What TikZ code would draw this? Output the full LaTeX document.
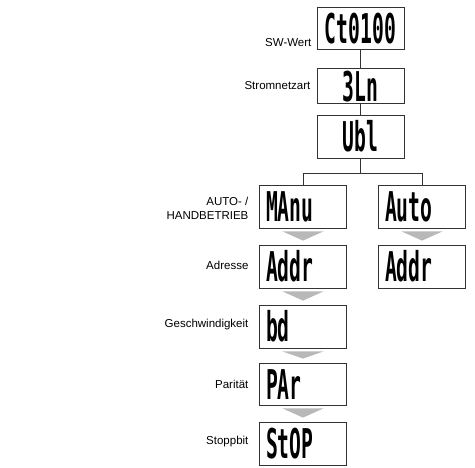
\documentclass[tikz,border=0pt]{standalone}
\usepackage{fontspec}
\usepackage{graphicx}
\setmainfont{Liberation Sans}
\newfontfamily\lcdfont{DejaVu Sans Mono}
\usepackage{tikz}
\usetikzlibrary{positioning, calc}

% display text, squeezed to look like the LCD
\newcommand{\lcd}[2][l]{\makebox[74pt][#1]{\scalebox{0.48}[1]{\lcdfont\bfseries\fontsize{41}{41}\selectfont #2}}}

\begin{document}
\begin{tikzpicture}[x=1pt, y=1pt,
    display/.style={draw=black!80, line width=0.8pt, minimum width=87pt, minimum height=43pt,
                    inner sep=0pt, text height=30pt, text depth=0pt},
    caption/.style={font=\fontsize{11.5}{13.5}\selectfont, align=right, inner sep=0pt},
    link/.style={draw=black!80, line width=0.8pt},
    pointer/.style={fill=black!28}]
        \useasboundingbox (0,0) rectangle (475,-467);

        % Top chain
        \node[display, minimum height=42pt] (ct) at (360.5,-28) {\lcd[c]{Ct0100}};
        \node[display, minimum height=35pt] (net) at (360.5,-86) {\lcd[c]{3Ln}};
        \node[display] (ubl) at (360.5,-136.5) {\lcd[c]{Ubl}};

        % Manual branch
        \node[display] (manu) at (303,-206.5) {\lcd{MAnu}};
        \node[display] (addr) at (303,-266.5) {\lcd{Addr}};
        \node[display] (bd) at (303,-326.5) {\lcd{bd}};
        \node[display, minimum height=42pt] (par) at (303,-384) {\lcd{PAr}};
        \node[display] (stop) at (303,-443.5) {\lcd{StOP}};

        % Auto branch
        \node[display] (auto) at (422,-206.5) {\lcd{Auto}};
        \node[display] (addrb) at (422,-266.5) {\lcd{Addr}};

        % Lines
        \coordinate[below=15pt of ubl.south] (split);
        \draw[link] (ct) -- (net);
        \draw[link] (net) -- (ubl);
        \draw[link] (ubl) -- (split) -| (manu);
        \draw[link] (split) -| (auto);

        % Grey pointers
        \foreach \a/\b in {manu/addr, addr/bd, bd/par, par/stop, auto/addrb} {
          \fill[pointer] ($(\a.south)+(-20.5,-3)$) -- ($(\a.south)+(20.5,-3)$) -- ($(\b.north)+(0,4)$) -- cycle;
        }

        % Labels
        \node[caption, left=5pt of ct.south west, yshift=7pt] (swwert) {SW-Wert};
        \node[caption, left=6pt of net.west] (netz) {Stromnetzart};
        \node[caption, left=10.5pt of manu.west, yshift=-2pt] (mode) {AUTO- /\\HANDBETRIEB};
        \node[caption, left=10.5pt of addr.west, yshift=1pt] (adr) {Adresse};
        \node[caption, left=10.5pt of bd.west, yshift=2pt] (speed) {Geschwindigkeit};
        \node[caption, left=10.5pt of par.west] (parity) {Parität};
        \node[caption, left=10.5pt of stop.west, yshift=2pt] (stopbit) {Stoppbit};
\end{tikzpicture}
\end{document}
